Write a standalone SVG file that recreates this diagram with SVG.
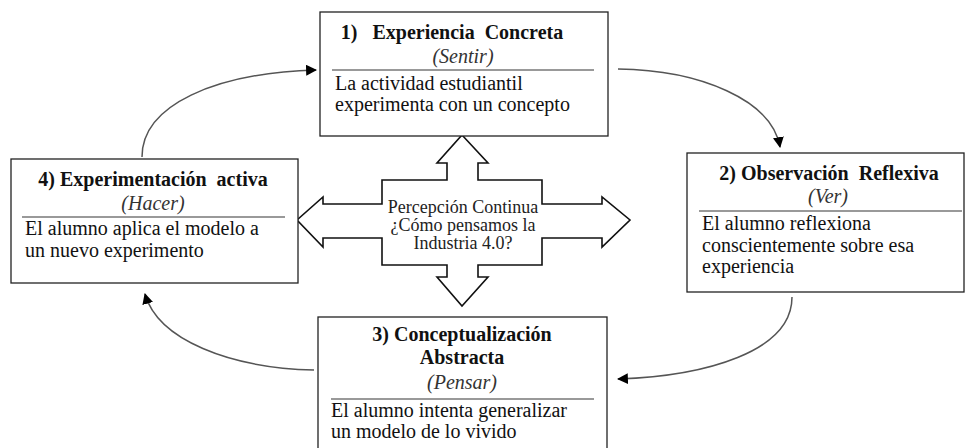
<svg xmlns="http://www.w3.org/2000/svg" width="966" height="448" viewBox="0 0 966 448" font-family="Liberation Serif, serif">
<defs>
<marker id="ah" viewBox="0 0 10 10" refX="9" refY="5" markerWidth="11" markerHeight="11" markerUnits="userSpaceOnUse" orient="auto">
<path d="M0,0 L10,5 L0,10 z" fill="#000"/>
</marker>
</defs>
<rect width="966" height="448" fill="#fff"/>
<g id="connectors" fill="none" stroke="#555" stroke-width="1.5">
<path d="M142,157 C142,105 215,73 316,70" marker-end="url(#ah)"/>
<path d="M618,69 C700,70 772,100 780,147" marker-end="url(#ah)"/>
<path d="M792,297 C792,352 705,376 618,379" marker-end="url(#ah)"/>
<path d="M314,370 C230,368 158,340 145,294" marker-end="url(#ah)"/>
</g>
<g id="cross">
<path d="M462,135 L488,163 L478,163 L478,180 L542,180 L542,204 L602,204 L602,197 L630,220 L602,247 L602,238 L542,238 L542,265 L478,265 L478,277 L488,277 L462,306 L437,277 L447,277 L447,265 L382,265 L382,238 L323,238 L323,247 L297,220 L323,197 L323,204 L382,204 L382,180 L447,180 L447,163 L437,163 Z" fill="#fff" stroke="#111" stroke-width="1.6"/>
<text x="463" y="213" font-family="Liberation Serif, serif" font-size="18" text-anchor="middle" fill="#222">Percepción Continua</text>
<text x="463" y="231" font-family="Liberation Serif, serif" font-size="18" text-anchor="middle" fill="#222">¿Cómo pensamos la</text>
<text x="463" y="249" font-family="Liberation Serif, serif" font-size="18" text-anchor="middle" fill="#222">Industria 4.0?</text>
</g>
<g id="node1">
<rect x="320" y="12" width="288" height="124" fill="#fff" stroke="#222" stroke-width="1.3"/>
<text x="452" y="39" font-family="Liberation Serif, serif" font-size="20" font-weight="bold" text-anchor="middle" fill="#111" xml:space="preserve">1)   Experiencia  Concreta</text>
<text x="463" y="63" font-family="Liberation Serif, serif" font-size="20" font-style="italic" text-anchor="middle" fill="#333">(Sentir)</text>
<line x1="332" y1="70" x2="594" y2="70" stroke="#777" stroke-width="1.5"/>
<text x="335" y="90" font-family="Liberation Serif, serif" font-size="20" fill="#111">La actividad estudiantil</text>
<text x="335" y="111" font-family="Liberation Serif, serif" font-size="20" fill="#111">experimenta con un concepto</text>
</g>
<g id="node2">
<rect x="687" y="153" width="277" height="139" fill="#fff" stroke="#222" stroke-width="1.3"/>
<text x="829" y="180" font-family="Liberation Serif, serif" font-size="20" font-weight="bold" text-anchor="middle" fill="#111" xml:space="preserve">2) Observación  Reflexiva</text>
<text x="828" y="203" font-family="Liberation Serif, serif" font-size="20" font-style="italic" text-anchor="middle" fill="#333">(Ver)</text>
<line x1="699" y1="211" x2="962" y2="211" stroke="#777" stroke-width="1.5"/>
<text x="702" y="230" font-family="Liberation Serif, serif" font-size="20" fill="#111">El alumno reflexiona</text>
<text x="702" y="252" font-family="Liberation Serif, serif" font-size="20" fill="#111">conscientemente sobre esa</text>
<text x="702" y="273" font-family="Liberation Serif, serif" font-size="20" fill="#111">experiencia</text>
</g>
<g id="node4">
<rect x="11" y="159" width="287" height="124" fill="#fff" stroke="#222" stroke-width="1.3"/>
<text x="153" y="186" font-family="Liberation Serif, serif" font-size="20" font-weight="bold" text-anchor="middle" fill="#111" xml:space="preserve">4) Experimentación  activa</text>
<text x="153" y="210" font-family="Liberation Serif, serif" font-size="20" font-style="italic" text-anchor="middle" fill="#333">(Hacer)</text>
<line x1="22" y1="217" x2="285" y2="217" stroke="#777" stroke-width="1.5"/>
<text x="25" y="235" font-family="Liberation Serif, serif" font-size="20" fill="#111">El alumno aplica el modelo a</text>
<text x="25" y="257" font-family="Liberation Serif, serif" font-size="20" fill="#111">un nuevo experimento</text>
</g>
<g id="node3">
<rect x="318" y="317" width="289" height="140" fill="#fff" stroke="#222" stroke-width="1.3"/>
<text x="462" y="341" font-family="Liberation Serif, serif" font-size="20" font-weight="bold" text-anchor="middle" fill="#111">3) Conceptualización</text>
<text x="462" y="364" font-family="Liberation Serif, serif" font-size="20" font-weight="bold" text-anchor="middle" fill="#111">Abstracta</text>
<text x="462" y="389" font-family="Liberation Serif, serif" font-size="20" font-style="italic" text-anchor="middle" fill="#333">(Pensar)</text>
<line x1="331" y1="399" x2="594" y2="399" stroke="#777" stroke-width="1.5"/>
<text x="331" y="417" font-family="Liberation Serif, serif" font-size="20" fill="#111">El alumno intenta generalizar</text>
<text x="331" y="438" font-family="Liberation Serif, serif" font-size="20" fill="#111">un modelo de lo vivido</text>
</g>
</svg>
